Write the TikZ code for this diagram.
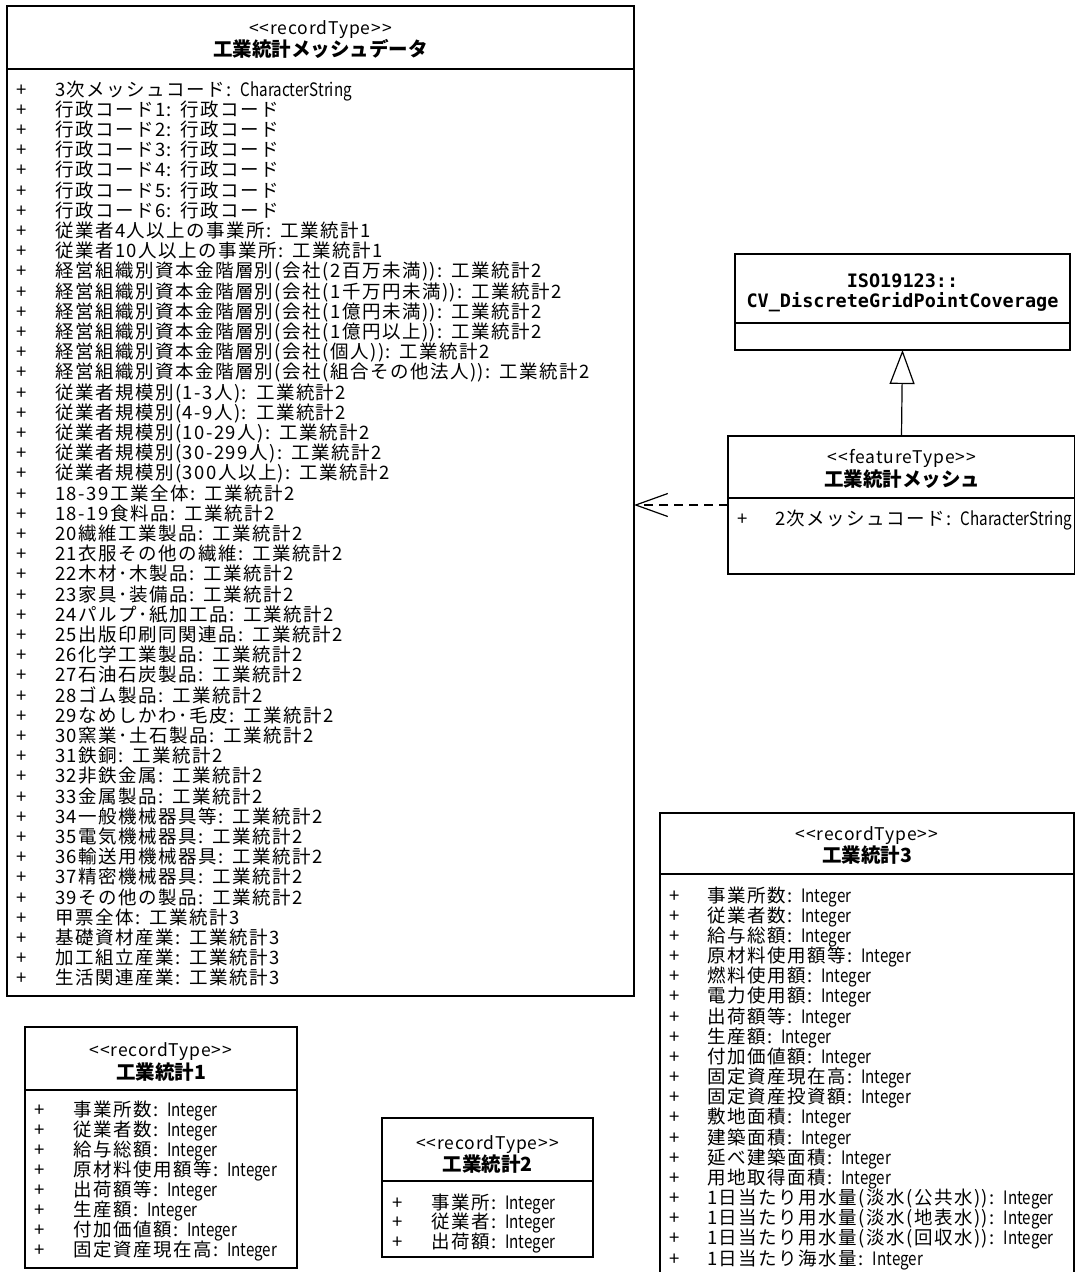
\documentclass[tikz,border=0pt]{standalone}
\usepackage{fontspec}
\setmainfont{Noto Sans CJK JP}
\newfontfamily\latf{Noto Sans CJK JP}[FakeStretch=0.82]
\newfontfamily\cjkf{Noto Sans CJK JP}[LetterSpace=8]
\newfontfamily\numf{Noto Sans CJK JP}[LetterSpace=8]
\newfontfamily\stf{Noto Sans CJK JP}[LetterSpace=5]
\newfontfamily\isof{DejaVu Sans Mono}
\usetikzlibrary{arrows.meta}
% automatic switching between CJK, digit/punctuation and Latin fonts
\newXeTeXintercharclass\cjkcls
\newXeTeXintercharclass\numcls
\newcount\cjkcnt
\newcommand{\setclassrange}[3]{%
  \cjkcnt=#1\relax
  \loop
    \XeTeXcharclass\cjkcnt=#3\relax
    \ifnum\cjkcnt<#2\relax \advance\cjkcnt by 1 \repeat}
\setclassrange{"3000}{"30FF}{\cjkcls}
\setclassrange{"4E00}{"9FFF}{\cjkcls}
\setclassrange{"FF00}{"FFEF}{\cjkcls}
\setclassrange{`0}{`9}{\numcls}
\XeTeXcharclass`(=\numcls
\XeTeXcharclass`)=\numcls
\XeTeXcharclass`-=\numcls
\XeTeXcharclass`:=\numcls
% into CJK
\XeTeXinterchartoks 0 \cjkcls = {\cjkf}
\XeTeXinterchartoks \numcls \cjkcls = {\cjkf}
\XeTeXinterchartoks 4095 \cjkcls = {\cjkf}
% into digits / punctuation
\XeTeXinterchartoks 0 \numcls = {\numf}
\XeTeXinterchartoks \cjkcls \numcls = {\numf}
\XeTeXinterchartoks 4095 \numcls = {\numf}
% into Latin letters
\XeTeXinterchartoks \cjkcls 0 = {\latf}
\XeTeXinterchartoks \numcls 0 = {\latf}
\XeTeXinterchartoks 4095 0 = {\latf}
\newcommand{\cln}{:\hspace{9pt}}
\newcommand{\attrfont}{\fontsize{18.5}{20}\selectfont\latf\XeTeXinterchartokenstate=1\relax}
\tikzset{
  umlbox/.style={draw, line width=1.2pt, anchor=north west, inner sep=0pt, outer sep=0pt, fill=white},
  divline/.style={line width=1.2pt},
  stereo/.style={inner sep=0pt, font=\fontsize{17.5}{18}\selectfont\stf},
  cname/.style={inner sep=0pt, font=\fontsize{19.5}{20}\selectfont\bfseries},
  isoname/.style={inner sep=0pt, align=center, font=\fontsize{18.5}{20}\selectfont\isof\bfseries},
  attr/.style={inner sep=0pt, anchor=base west, font=\attrfont},
  plusmark/.style={inner sep=0pt, anchor=base, font=\fontsize{18.5}{20}\selectfont},
  depline/.style={line width=1.2pt, dash pattern=on 9pt off 6pt, -{Straight Barb[length=32pt,width=23pt,line width=1.2pt]}},
  genline/.style={line width=1.2pt, -{Triangle[open,length=34pt,width=25pt,line width=1.2pt,fill=white]}}
}
\begin{document}
\begin{tikzpicture}[x=1pt,y=-1pt]
\useasboundingbox (0,0) rectangle (1075,1272);
\clip (0,0) rectangle (1075,1272);
\fill[white] (0,0) rectangle (1075,1272);

% ---------------- main record type
\node[umlbox, minimum width=627pt, minimum height=990pt] (main) at (7,6) {};
\draw[divline] (main.west |- 0,69) -- (main.east |- 0,69);
\node[stereo] (mainst) at (320.5,30) {<{}<recordType>{}>};
\node[cname] (mainnm) at (320.5,49) {工業統計メッシュデータ};
\foreach \t [count=\i from 0] in {
3次メッシュコード\cln CharacterString,
行政コード1\cln 行政コード,
行政コード2\cln 行政コード,
行政コード3\cln 行政コード,
行政コード4\cln 行政コード,
行政コード5\cln 行政コード,
行政コード6\cln 行政コード,
従業者4人以上の事業所\cln 工業統計1,
従業者10人以上の事業所\cln 工業統計1,
経営組織別資本金階層別(会社(2百万未満))\cln 工業統計2,
経営組織別資本金階層別(会社(1千万円未満))\cln 工業統計2,
経営組織別資本金階層別(会社(1億円未満))\cln 工業統計2,
経営組織別資本金階層別(会社(1億円以上))\cln 工業統計2,
経営組織別資本金階層別(会社(個人))\cln 工業統計2,
経営組織別資本金階層別(会社(組合その他法人))\cln 工業統計2,
従業者規模別(1-3人)\cln 工業統計2,
従業者規模別(4-9人)\cln 工業統計2,
従業者規模別(10-29人)\cln 工業統計2,
従業者規模別(30-299人)\cln 工業統計2,
従業者規模別(300人以上)\cln 工業統計2,
18-39工業全体\cln 工業統計2,
18-19食料品\cln 工業統計2,
20繊維工業製品\cln 工業統計2,
21衣服その他の繊維\cln 工業統計2,
22木材･木製品\cln 工業統計2,
23家具･装備品\cln 工業統計2,
24パルプ･紙加工品\cln 工業統計2,
25出版印刷同関連品\cln 工業統計2,
26化学工業製品\cln 工業統計2,
27石油石炭製品\cln 工業統計2,
28ゴム製品\cln 工業統計2,
29なめしかわ･毛皮\cln 工業統計2,
30窯業･土石製品\cln 工業統計2,
31鉄銅\cln 工業統計2,
32非鉄金属\cln 工業統計2,
33金属製品\cln 工業統計2,
34一般機械器具等\cln 工業統計2,
35電気機械器具\cln 工業統計2,
36輸送用機械器具\cln 工業統計2,
37精密機械器具\cln 工業統計2,
39その他の製品\cln 工業統計2,
甲票全体\cln 工業統計3,
基礎資材産業\cln 工業統計3,
加工組立産業\cln 工業統計3,
生活関連産業\cln 工業統計3}{
  \node[plusmark] (mp\i) at (22,{96+20.2*\i}) {+};
  \node[attr] (ma\i) at (55,{96+20.2*\i}) {\t};
}

% ---------------- ISO coverage
\node[umlbox, minimum width=335pt, minimum height=96pt] (iso) at (735,254) {};
\draw[divline] (iso.west |- 0,323) -- (iso.east |- 0,323);
\node[isoname] (isonm) at (902.5,293) {ISO19123::\\CV\_DiscreteGridPointCoverage};

% ---------------- feature type
\node[umlbox, minimum width=347pt, minimum height=138pt] (feat) at (728,436) {};
\draw[divline] (feat.west |- 0,498) -- (feat.east |- 0,498);
\node[stereo] (featst) at (902,458) {<{}<featureType>{}>};
\node[cname] (featnm) at (902,479) {工業統計メッシュ};
\node[plusmark] (fp0) at (743,525) {+};
\node[attr] (fa0) at (775,525) {2次メッシュコード\cln CharacterString};

% ---------------- record type 3
\node[umlbox, minimum width=414pt, minimum height=470pt] (r3) at (660,813) {};
\draw[divline] (r3.west |- 0,874) -- (r3.east |- 0,874);
\node[stereo] (r3st) at (867,836) {<{}<recordType>{}>};
\node[cname] (r3nm) at (867,855) {工業統計3};
\foreach \t [count=\i from 0] in {
事業所数\cln Integer,
従業者数\cln Integer,
給与総額\cln Integer,
原材料使用額等\cln Integer,
燃料使用額\cln Integer,
電力使用額\cln Integer,
出荷額等\cln Integer,
生産額\cln Integer,
付加価値額\cln Integer,
固定資産現在高\cln Integer,
固定資産投資額\cln Integer,
敷地面積\cln Integer,
建築面積\cln Integer,
延べ建築面積\cln Integer,
用地取得面積\cln Integer,
1日当たり用水量(淡水(公共水))\cln Integer,
1日当たり用水量(淡水(地表水))\cln Integer,
1日当たり用水量(淡水(回収水))\cln Integer,
1日当たり海水量\cln Integer}{
  \node[plusmark] (r3p\i) at (675,{902+20.17*\i}) {+};
  \node[attr] (r3a\i) at (707,{902+20.17*\i}) {\t};
}

% ---------------- record type 1
\node[umlbox, minimum width=272pt, minimum height=241pt] (r1) at (25,1027) {};
\draw[divline] (r1.west |- 0,1090) -- (r1.east |- 0,1090);
\node[stereo] (r1st) at (161,1052) {<{}<recordType>{}>};
\node[cname] (r1nm) at (161,1072) {工業統計1};
\foreach \t [count=\i from 0] in {
事業所数\cln Integer,
従業者数\cln Integer,
給与総額\cln Integer,
原材料使用額等\cln Integer,
出荷額等\cln Integer,
生産額\cln Integer,
付加価値額\cln Integer,
固定資産現在高\cln Integer}{
  \node[plusmark] (r1p\i) at (40,{1116+20.1*\i}) {+};
  \node[attr] (r1a\i) at (73,{1116+20.1*\i}) {\t};
}

% ---------------- record type 2
\node[umlbox, minimum width=211pt, minimum height=139pt] (r2) at (382,1118) {};
\draw[divline] (r2.west |- 0,1181) -- (r2.east |- 0,1181);
\node[stereo] (r2st) at (487.5,1145) {<{}<recordType>{}>};
\node[cname] (r2nm) at (487.5,1164) {工業統計2};
\foreach \t [count=\i from 0] in {
事業所\cln Integer,
従業者\cln Integer,
出荷額\cln Integer}{
  \node[plusmark] (r2p\i) at (398,{1209+19.5*\i}) {+};
  \node[attr] (r2a\i) at (431,{1209+19.5*\i}) {\t};
}

% ---------------- connectors
\draw[genline] (feat.north) -- (iso.south);
\draw[depline] (feat.west) -- (feat.west -| main.east);
\end{tikzpicture}
\end{document}
